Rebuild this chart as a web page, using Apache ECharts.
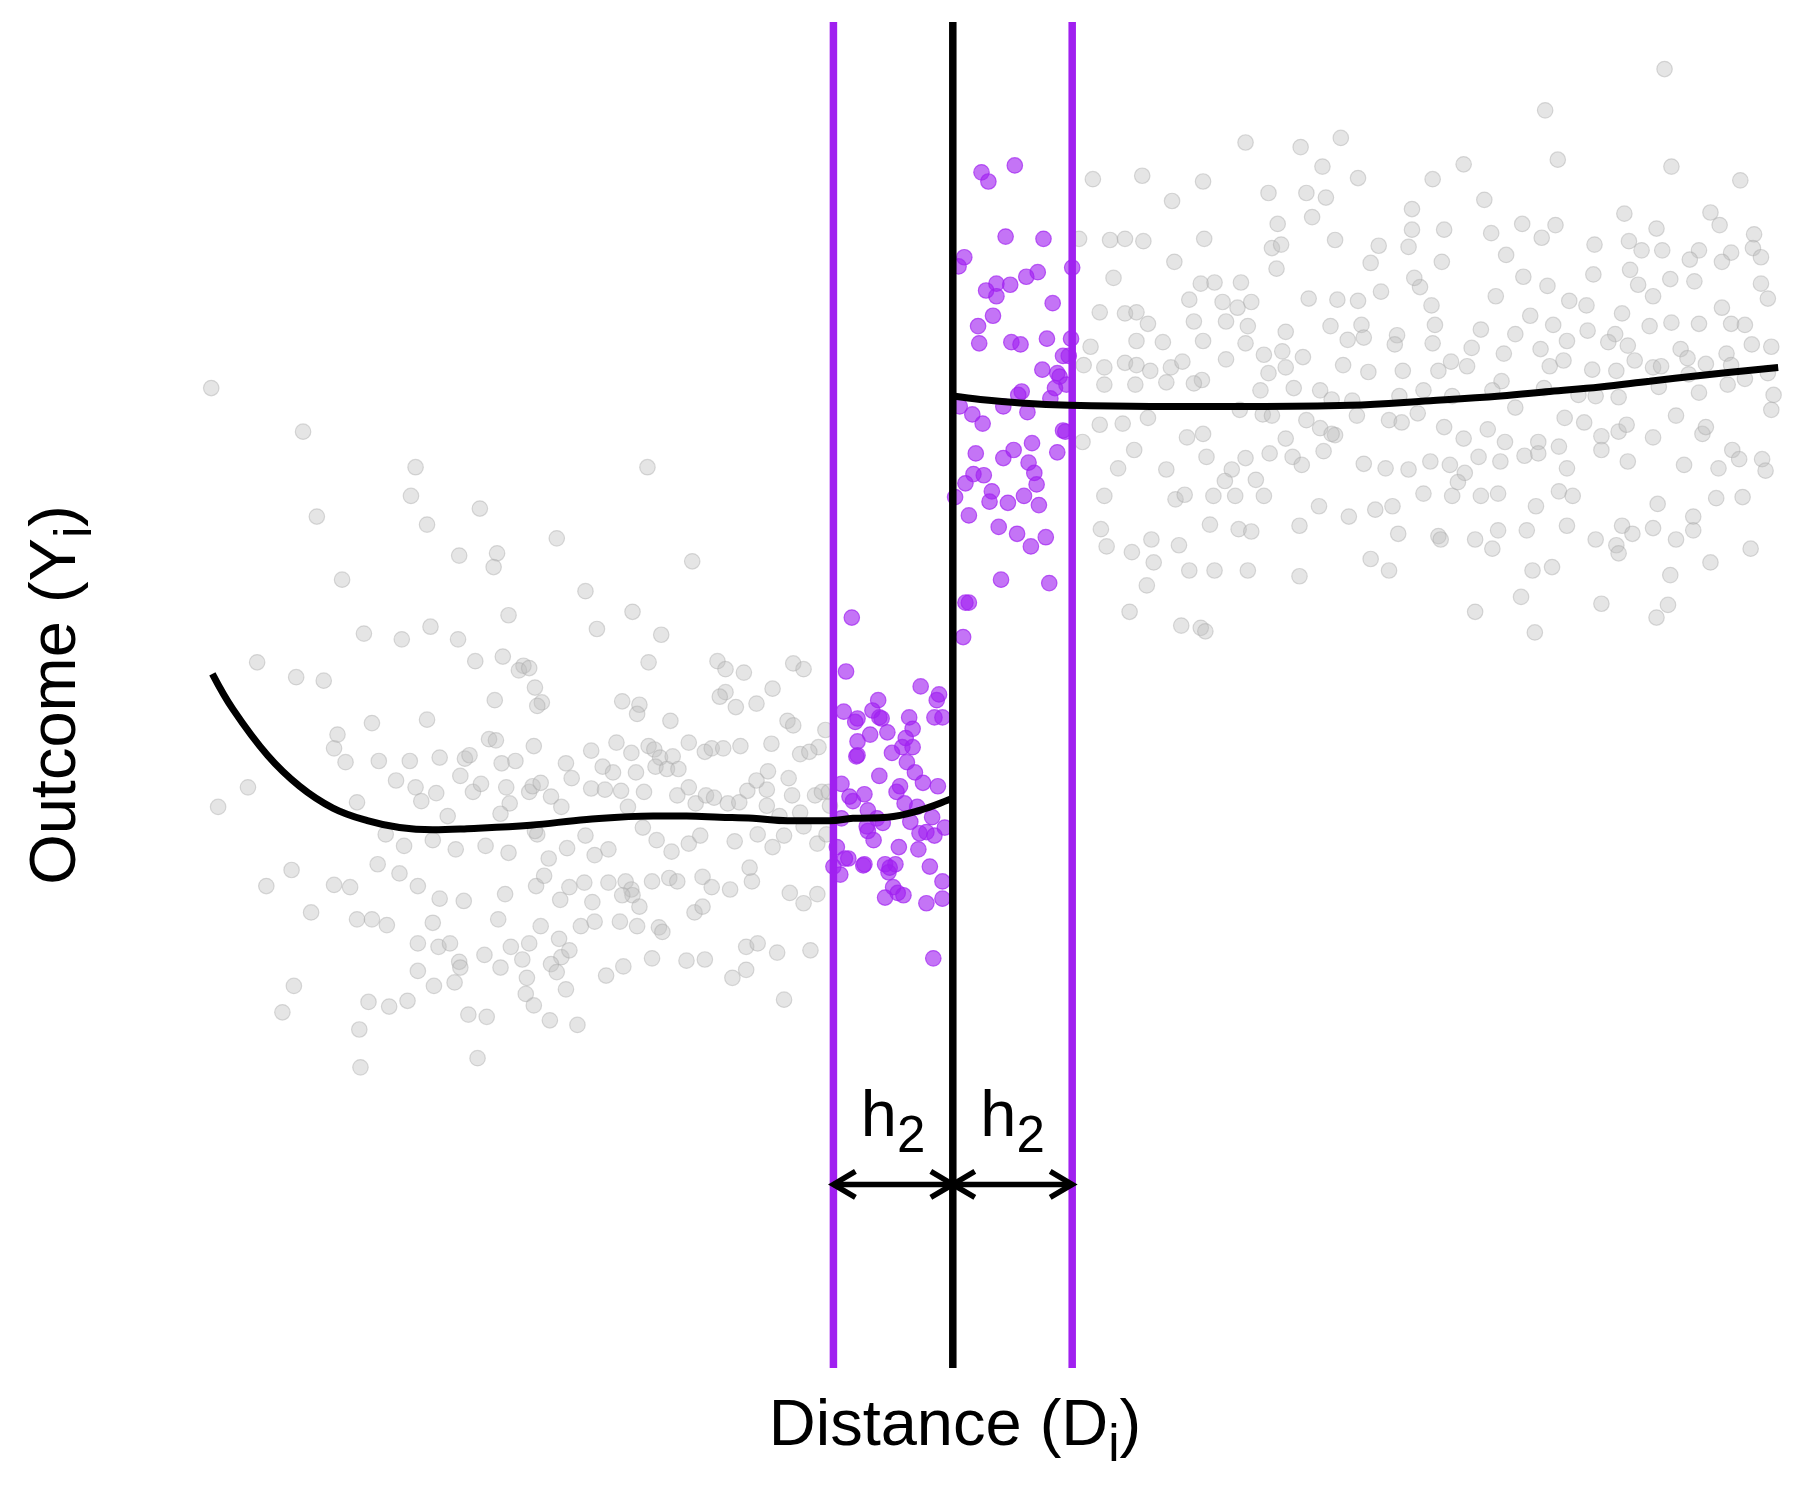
<!DOCTYPE html>
<html>
<head>
<meta charset="utf-8">
<title>RD bandwidth h2</title>
<script src="https://cdn.jsdelivr.net/npm/echarts@6/dist/echarts.min.js"></script>
<style>
  html, body { margin: 0; padding: 0; background: #fff; }
  #chart { width: 1800px; height: 1500px; }
</style>
</head>
<body>
<div id="chart"></div>
<script>
// distance D (cutoff at 0), outcome Y
const cutoff = 0;
const bandwidth = 104;          // h2
const arrowY = 160;
const labelY = 218;

// observations left of the cutoff, outside the band
const controlOutside = [
  [-646,854],[-566,816],[-468,785],[-472,760],[-554,742],[-412,749],[-458,735],[-266,785],[-345,723],[-397,710],
  [-430,708],[-400,698],[-532,687],[-227,703],[-320,677],[-387,656],[-279,659],[-455,646],[-513,640],[-310,644],
  [-480,635],[-431,635],[-254,639],[-606,615],[-572,602],[-548,599],[-416,616],[-392,620],[-374,612],[-378,608],
  [-369,610],[-265,615],[-205,616],[-198,609],[-182,606],[-139,614],[-364,593],[-358,580],[-399,582],[-362,577],
  [-288,581],[-273,578],[-198,589],[-171,579],[-506,562],[-458,565],[-539,540],[-536,552],[-529,528],[-500,529],
  [-473,529],[-447,532],[-425,531],[-421,534],[-404,548],[-398,547],[-429,516],[-393,527],[-381,529],[-365,542],
  [-337,527],[-315,538],[-293,545],[-280,536],[-265,542],[-260,539],[-255,532],[-230,545],[-216,537],[-210,540],
  [-200,540],[-185,542],[-158,544],[-144,564],[-139,560],[-117,541],[-614,506],[-640,489],[-485,512],[-468,506],
  [-463,494],[-450,501],[-418,502],[-411,509],[-389,506],[-386,492],[-369,502],[-366,507],[-359,510],[-350,498],
  [-341,489],[-332,514],[-315,505],[-303,504],[-289,503],[-276,519],[-259,524],[-249,522],[-240,499],[-230,506],
  [-224,492],[-215,499],[-208,497],[-196,492],[-186,493],[-179,503],[-162,504],[-140,499],[-133,484],[-120,499],
  [-114,502],[-108,502],[-107,490],
  [-494,465],[-478,455],[-453,460],[-433,452],[-407,455],[-387,449],[-362,465],[-352,444],[-336,453],[-320,464],
  [-312,447],[-300,452],[-270,471],[-258,460],[-245,450],[-230,457],[-220,464],[-190,459],[-170,465],[-157,454],
  [-147,464],[-130,472],[-118,457],[-110,465],
  [-598,420],[-576,434],[-559,397],[-539,421],[-525,419],[-519,391],[-506,391],[-466,420],[-447,409],[-426,407],
  [-453,388],[-390,413],[-363,420],[-334,419],[-321,423],[-300,423],[-285,424],[-280,417],[-262,424],[-247,427],
  [-240,424],[-218,428],[-210,419],[-194,417],[-175,424],[-142,414],[-118,413],[-130,405],
  [-466,370],[-448,367],[-438,370],[-430,354],[-408,360],[-385,367],[-369,370],[-343,374],[-341,358],[-324,385],
  [-312,389],[-290,389],[-275,385],[-256,384],[-253,380],[-225,397],[-218,402],[-180,367],[-170,370],[-153,362],
  [-124,364],
  [-466,346],[-452,333],[-434,336],[-429,349],[-394,349],[-375,356],[-371,340],[-350,352],[-345,345],[-337,330],
  [-302,342],[-287,350],[-262,357],[-232,355],[-216,356],[-192,340],[-180,347],
  [-574,333],[-584,310],[-509,319],[-491,315],[-475,320],[-422,308],[-406,306],[-372,326],[-365,316],[-351,303],
  [-327,299],[-147,321],[-517,295],[-516,262],[-414,270],
  [-440,481],[-394,483],[-519,493],[-501,439],[-482,431],[-396,391],[-493,386],[-130,609],[-275,570],[-246,564],
  [-203,585],[-189,576],[-157,592],[-111,556],[-305,524],[-296,519],[-244,533],[-239,522],[-133,535],[-125,537],
  [-161,520],[-171,512],[-143,514],[-269,502],[-283,489],[-162,490],[-151,481],[-364,468],[-356,429],[-279,412],
  [-273,402],[-288,412],[-177,436],[-342,408],[-314,406],[-359,385],[-334,364]
];

// observations right of the cutoff, outside the band
const treatedOutside = [
  [200,1177],[620,1132],[516,1096],[255,1068],[303,1064],[338,1072],[527,1053],[445,1049],[626,1047],[322,1047],
  [353,1037],[122,1036],[165,1039],[218,1034],[418,1036],[686,1035],[191,1017],[275,1024],[308,1024],[325,1020],
  [463,1018],[400,1010],[585,1006],[660,1007],[283,997],[313,1003],[525,996],[496,997],[469,989],[428,992],
  [400,992],[668,996],[613,993],[698,988],[110,984],[137,983],[150,984],[166,982],[219,984],[278,976],
  [286,979],[333,983],[371,978],[397,977],[513,985],[559,979],[589,982],[600,974],[618,974],[650,974],
  [678,972],[697,976],[704,968],[193,964],[282,958],[364,963],[482,970],[426,964],[558,953],[590,957],
  [642,966],[670,964],[140,950],[216,945],[228,946],[251,946],[206,931],[235,929],[248,924],[260,929],
  [310,932],[335,931],[353,930],[373,938],[407,942],[417,926],[402,950],[497,951],[518,943],[537,930],
  [473,934],[552,926],[597,944],[610,934],[625,949],[646,947],[670,924],[704,945],[710,932],[128,920],
  [150,919],[160,920],[170,910],[210,912],[238,912],[257,908],[290,903],[329,908],[356,909],[358,898],
  [387,900],[420,909],[460,905],[490,901],[503,917],[523,909],[553,904],[577,901],[583,919],[607,908],
  [626,911],[650,910],[678,910],[690,909],[120,890],[160,895],[183,894],[218,895],[255,893],[271,883],
  [287,886],[305,881],[344,896],[385,892],[418,893],[452,889],[480,884],[512,888],[535,895],[571,894],
  [588,891],[634,888],[640,880],[674,884],[696,892],[713,890],[114,874],[132,872],[150,876],[160,874],
  [172,869],[190,872],[200,877],[217,861],[238,879],[275,867],[290,872],[340,874],[362,868],[392,869],
  [423,869],[434,877],[448,873],[478,860],[520,873],[532,878],[557,870],[578,869],[594,878],[610,872],
  [617,873],[641,866],[656,875],[678,874],[710,867],[132,857],[159,857],[186,859],[210,858],[268,852],
  [297,854],[320,852],[330,844],[348,843],[389,847],[410,852],[435,847],[470,852],[490,837],[515,854],
  [545,848],[560,847],[580,846],[615,855],[650,850],[675,857],[690,862],[715,848],[713,835],[128,822],
  [148,823],[170,828],[204,811],[218,814],[250,835],[270,831],[278,830],[290,810],[308,826],[320,819],
  [333,813],[352,830],[380,826],[391,824],[405,832],[428,820],[445,810],[466,818],[481,807],[510,807],
  [528,803],[533,828],[550,824],[565,812],[580,816],[587,822],[610,811],[630,830],[653,814],[656,820],
  [679,800],[113,807],[144,784],[158,800],[186,783],[221,794],[243,783],[237,773],[255,793],[264,774],
  [276,797],[296,794],[304,787],[323,799],[330,814],[358,788],[377,784],[397,783],[416,790],[433,787],
  [446,780],[458,794],[477,790],[498,795],[510,797],[535,784],[565,800],[588,790],[637,787],[667,784],
  [685,792],[705,792],[708,782],[132,760],[194,757],[202,761],[227,760],[246,760],[271,760],[319,751],
  [345,742],[368,748],[383,751],[410,762],[435,760],[440,772],[460,760],[475,762],[508,751],[528,764],
  [540,760],[614,753],[645,742],[665,758],[688,759],[129,731],[224,735],[249,731],[260,729],[302,734],
  [388,727],[423,725],[455,722],[475,730],[500,730],[535,734],[583,734],[592,727],[578,717],[630,722],
  [645,730],[695,714],[134,716],[156,711],[173,722],[206,695],[228,695],[257,695],[302,690],[364,705],
  [380,695],[425,722],[470,714],[505,695],[560,722],[580,710],[610,732],[625,691],[660,702],[169,682],
  [199,647],[216,645],[220,642],[154,659],[197,717],[175,702],[455,659],[495,672],[507,641],[565,666],
  [613,654],[623,665],[522,698]
];

// observations inside the band, left of the cutoff
const controlBand = [
  [-88,654],[-93,607],[-28,594],[-12,587],[-14,582],[-65,582],[-95,572],[-83,566],[-85,563],[-70,573],
  [-64,567],[-62,566],[-38,567],[-16,567],[-9,567],[-35,557],[-72,552],[-57,554],[-83,546],[-41,549],
  [-44,541],[-35,541],[-84,533],[-83,534],[-53,536],[-40,528],[-64,516],[-33,519],[-97,509],[-46,507],
  [-49,502],[-26,510],[-13,507],[-90,498],[-87,494],[-77,500],[-42,492],[-31,489],[-74,486],[-97,479],
  [-75,472],[-66,479],[-61,475],[-37,476],[-18,480],[-7,471],[-74,468],[-29,466],[-23,467],[-16,464],
  [-69,460],[-101,454],[-47,454],[-30,452],[-94,444],[-91,444],[-104,437],[-98,430],[-78,438],[-77,439],
  [-59,439],[-50,439],[-56,432],[-55,436],[-20,437],[-52,419],[-9,424],[-59,410],[-48,414],[-43,412],
  [-23,405],[-9,409],[-17,357]
];

// observations inside the band, right of the cutoff
const treatedBand = [
  [25,1042],[31,1034],[54,1048],[46,986],[79,984],[10,968],[5,960],[104,959],[64,951],[74,955],
  [38,945],[50,944],[29,939],[38,934],[87,928],[35,917],[22,908],[23,893],[51,894],[59,892],
  [82,897],[103,897],[96,882],[101,882],[78,870],[91,867],[93,864],[99,857],[89,854],[60,851],
  [57,848],[85,845],[6,838],[44,838],[17,831],[26,823],[65,833],[96,817],[98,816],[20,797],
  [44,793],[53,800],[69,806],[91,798],[66,789],[71,780],[73,770],[18,779],[11,771],[27,778],
  [2,759],[34,764],[32,755],[48,754],[62,760],[75,752],[14,743],[40,733],[56,727],[68,716],
  [81,724],[42,687],[84,684],[11,667],[14,667],[9,637]
];

// fitted curves on each side of the cutoff
const fitLeft = [
  [-645,605],[-627,574],[-597,534],[-569,507],[-540,488],[-510,477],[-482,471],[-453,469],[-423,470],
  [-368,473],[-319,478],[-261,481],[-232,481],[-203,480],[-174,479],[-144,477],[-107,477],[-87,479],
  [-57,480],[-29,486],[-4,495],[0,497]
];
const fitRight = [
  [0,847],[24,844],[59,841],[102,839],[172,838],[259,838],[346,839],[416,843],[477,847],[520,851],
  [564,855],[607,860],[651,865],[719,872]
];

const xMin = -830, xMax = 738, yMax = 1173;
const purple = '#A020F0';
const font = "'Liberation Sans', Arial, sans-serif";
const rich = {
  m: { fontSize: 65, lineHeight: 66, fontFamily: font, fill: '#000' },
  s: { fontSize: 51, lineHeight: 24, fontFamily: font, fill: '#000', padding: [40, 0, 0, 0] }
};

const chart = echarts.init(document.getElementById('chart'));

chart.setOption({
  backgroundColor: '#fff',
  animation: false,
  grid: { left: 0, right: 0, top: 22, bottom: 132 },
  xAxis: { type: 'value', min: xMin, max: xMax, show: false },
  yAxis: { type: 'value', min: 0, max: yMax, show: false },
  graphic: [
    {
      type: 'text', x: 955, y: 1427, z: 10,
      style: {
        text: '{m|Distance (D}{s|i}{m|)}', rich: rich,
        align: 'center', verticalAlign: 'middle', textAlign: 'center', textVerticalAlign: 'middle'
      }
    },
    {
      type: 'text', x: 57, y: 695, rotation: Math.PI / 2, z: 10,
      style: {
        text: '{m|Outcome (Y}{s|i}{m|)}', rich: rich,
        align: 'center', verticalAlign: 'middle', textAlign: 'center', textVerticalAlign: 'middle'
      }
    }
  ],
  series: [
    {
      type: 'scatter', data: controlOutside.concat(treatedOutside), symbolSize: 15.5, z: 2, clip: true,
      itemStyle: { color: 'rgba(190,190,190,0.5)', borderColor: 'rgba(165,165,165,0.5)', borderWidth: 1.2 }
    },
    {
      type: 'scatter', data: controlBand.concat(treatedBand), symbolSize: 15.5, z: 2, clip: true,
      itemStyle: { color: 'rgba(160,32,240,0.78)', borderColor: 'rgba(160,32,240,0.85)', borderWidth: 1.2 }
    },
    {
      type: 'custom', z: 3, silent: true,
      data: [
        { value: [cutoff - bandwidth, 0], itemStyle: { color: purple } },
        { value: [cutoff, 0], itemStyle: { color: '#000' } },
        { value: [cutoff + bandwidth, 0], itemStyle: { color: purple } }
      ],
      renderItem: function (params, api) {
        const top = api.coord([api.value(0), yMax]);
        const bottom = api.coord([api.value(0), 0]);
        return {
          type: 'line',
          shape: { x1: top[0], y1: top[1], x2: bottom[0], y2: bottom[1] },
          style: { stroke: api.visual('color'), lineWidth: 7.5 }
        };
      }
    },
    {
      type: 'line', data: fitLeft, smooth: 0.4, showSymbol: false, z: 4,
      lineStyle: { color: '#000', width: 7 }
    },
    {
      type: 'line', data: fitRight, smooth: 0.4, showSymbol: false, z: 4,
      lineStyle: { color: '#000', width: 7 }
    },
    {
      type: 'custom', z: 5, silent: true,
      data: [[cutoff - bandwidth, cutoff], [cutoff, cutoff + bandwidth]],
      renderItem: function (params, api) {
        const a = api.coord([api.value(0), arrowY]);
        const b = api.coord([api.value(1), arrowY]);
        const mid = api.coord([(api.value(0) + api.value(1)) / 2, labelY]);
        const hx = 22, hy = 13;
        const st = { stroke: '#000', lineWidth: 5.5, fill: null };
        return {
          type: 'group',
          children: [
            { type: 'line', shape: { x1: a[0], y1: a[1], x2: b[0], y2: b[1] }, style: st },
            { type: 'polyline', shape: { points: [[a[0] + hx, a[1] - hy], [a[0], a[1]], [a[0] + hx, a[1] + hy]] }, style: st },
            { type: 'polyline', shape: { points: [[b[0] - hx, b[1] - hy], [b[0], b[1]], [b[0] - hx, b[1] + hy]] }, style: st },
            {
              type: 'text', x: mid[0], y: mid[1],
              style: {
                text: '{m|h}{s|2}', rich: rich,
                align: 'center', verticalAlign: 'middle', textAlign: 'center', textVerticalAlign: 'middle'
              }
            }
          ]
        };
      }
    }
  ]
});
</script>
</body>
</html>
